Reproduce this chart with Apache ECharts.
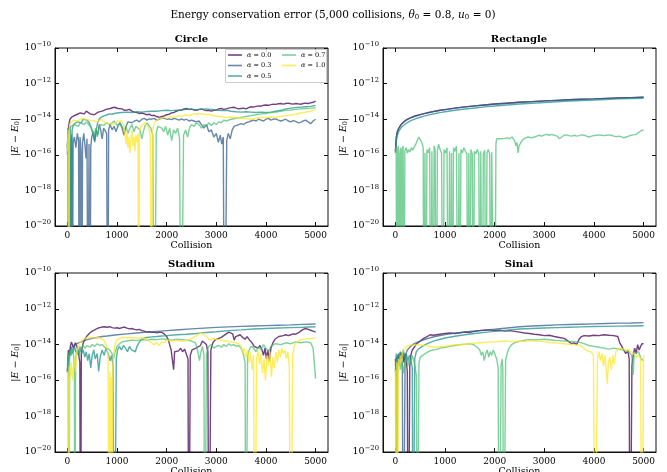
<!DOCTYPE html>
<html>
<head>
<meta charset="utf-8">
<script src="https://cdn.jsdelivr.net/npm/echarts@6/dist/echarts.min.js"></script>
<style>html,body{margin:0;padding:0;background:#fff;}#chart{width:667px;height:472px;}</style>
</head>
<body>
<div id="chart"></div>
<script>
// ---------- DATA (values are log10 |E - E0|; -30 marks an exact-zero error that plunges off the log axis) ----------
const xTicks = [0, 1000, 2000, 3000, 4000, 5000];
const panelTitles = ['Circle', 'Rectangle', 'Stadium', 'Sinai'];
const alphaLabels = ['α = 0.0', 'α = 0.3', 'α = 0.5', 'α = 0.7', 'α = 1.0'];

const circle_a00 = [[0,-15.6],[15,-14.6],[30,-14.3],[50,-14.0],[70,-13.95],[100,-13.85],[140,-13.9],[180,-13.75],[220,-13.8],[260,-13.65],[300,-13.6],[340,-13.7],[380,-13.55],[420,-13.6],[460,-13.7],[500,-13.8],[540,-13.75],[580,-13.7],[620,-13.6],[660,-13.62],[700,-13.55],[740,-13.5],[780,-13.45],[820,-13.45],[860,-13.4],[900,-13.38],[940,-13.33],[980,-13.3],[1020,-13.4],[1060,-13.45],[1100,-13.42],[1150,-13.5],[1200,-13.48],[1250,-13.45],[1300,-13.55],[1350,-13.6],[1400,-13.62],[1450,-13.68],[1500,-13.65],[1550,-13.7],[1600,-13.75],[1650,-13.72],[1700,-13.8],[1750,-13.78],[1800,-13.85],[1850,-13.9],[1900,-13.85],[1950,-13.82],[2000,-13.75],[2050,-13.72],[2100,-13.65],[2150,-13.62],[2200,-13.55],[2250,-13.5],[2300,-13.48],[2350,-13.42],[2400,-13.4],[2450,-13.45],[2500,-13.43],[2550,-13.48],[2600,-13.5],[2650,-13.45],[2700,-13.42],[2750,-13.48],[2800,-13.52],[2850,-13.5],[2900,-13.55],[2950,-13.5],[3000,-13.48],[3050,-13.42],[3100,-13.4],[3150,-13.45],[3200,-13.42],[3250,-13.38],[3300,-13.35],[3350,-13.33],[3400,-13.38],[3450,-13.42],[3500,-13.4],[3550,-13.38],[3600,-13.42],[3650,-13.35],[3700,-13.3],[3750,-13.32],[3800,-13.28],[3850,-13.25],[3900,-13.27],[3950,-13.22],[4000,-13.2],[4050,-13.22],[4100,-13.18],[4150,-13.15],[4200,-13.17],[4250,-13.13],[4300,-13.12],[4350,-13.15],[4400,-13.12],[4450,-13.1],[4500,-13.13],[4550,-13.15],[4600,-13.12],[4650,-13.14],[4700,-13.16],[4750,-13.12],[4800,-13.1],[4850,-13.12],[4900,-13.08],[4950,-13.05],[5000,-12.98]];
const circle_a03 = [[0,-16.0],[10,-14.8],[20,-30],[30,-15.0],[45,-15.8],[55,-30],[70,-15.2],[85,-14.9],[100,-30],[115,-15.3],[140,-15.0],[170,-15.6],[200,-14.8],[225,-15.2],[240,-30],[255,-15.0],[275,-15.8],[290,-30],[305,-15.3],[330,-14.8],[355,-15.5],[375,-16.2],[395,-15.1],[415,-30],[435,-15.4],[455,-30],[470,-15.6],[490,-15.0],[520,-14.7],[550,-15.2],[580,-14.6],[610,-14.9],[640,-14.3],[670,-14.6],[700,-15.1],[730,-14.5],[760,-14.4],[790,-14.8],[815,-30],[830,-14.6],[860,-14.3],[900,-14.6],[940,-14.4],[980,-14.7],[1020,-14.35],[1060,-14.2],[1100,-14.5],[1140,-14.9],[1180,-14.4],[1220,-14.15],[1260,-14.1],[1300,-14.2],[1350,-14.1],[1400,-14.05],[1450,-14.15],[1500,-14.0],[1550,-13.95],[1600,-14.05],[1650,-13.98],[1700,-14.0],[1750,-13.95],[1800,-14.05],[1850,-14.0],[1900,-13.92],[1950,-13.95],[2000,-14.0],[2050,-13.98],[2100,-14.02],[2150,-13.95],[2200,-14.0],[2250,-14.05],[2300,-13.98],[2350,-14.05],[2400,-14.0],[2450,-14.1],[2500,-14.05],[2550,-14.1],[2600,-14.15],[2650,-14.1],[2700,-14.3],[2750,-14.5],[2800,-14.3],[2850,-14.7],[2900,-14.6],[2950,-15.0],[3000,-14.8],[3040,-15.3],[3080,-14.9],[3110,-15.4],[3140,-15.0],[3165,-30],[3190,-30],[3210,-15.2],[3240,-14.8],[3280,-15.1],[3320,-14.6],[3360,-14.4],[3400,-14.5],[3450,-14.3],[3500,-14.25],[3550,-14.3],[3600,-14.2],[3650,-14.15],[3700,-14.1],[3750,-14.05],[3800,-14.1],[3850,-14.0],[3900,-14.05],[3950,-14.1],[4000,-14.0],[4050,-13.95],[4100,-14.05],[4150,-14.0],[4200,-13.98],[4250,-14.05],[4300,-14.1],[4350,-14.05],[4400,-14.0],[4450,-14.1],[4500,-14.15],[4550,-14.08],[4600,-14.12],[4650,-14.2],[4700,-14.18],[4750,-14.1],[4800,-14.05],[4850,-14.15],[4900,-14.25],[4950,-14.1],[5000,-14.0]];
const circle_a05 = [[0,-15.5],[15,-14.5],[30,-14.8],[50,-14.4],[70,-15.0],[80,-30],[95,-14.6],[120,-14.3],[160,-14.2],[200,-14.15],[240,-14.1],[280,-14.2],[320,-14.0],[360,-14.1],[400,-14.05],[440,-14.2],[480,-14.5],[520,-14.9],[550,-15.3],[580,-14.6],[610,-14.2],[650,-13.95],[700,-13.85],[750,-13.8],[800,-13.75],[850,-13.7],[900,-13.72],[950,-13.68],[1000,-13.65],[1100,-13.62],[1200,-13.6],[1300,-13.62],[1400,-13.58],[1500,-13.6],[1600,-13.57],[1700,-13.55],[1800,-13.55],[1900,-13.52],[2000,-13.5],[2100,-13.52],[2200,-13.5],[2300,-13.48],[2400,-13.45],[2500,-13.45],[2600,-13.47],[2700,-13.45],[2800,-13.42],[2900,-13.45],[3000,-13.48],[3100,-13.52],[3200,-13.5],[3300,-13.55],[3400,-13.58],[3500,-13.6],[3600,-13.58],[3700,-13.6],[3800,-13.62],[3900,-13.6],[4000,-13.62],[4100,-13.6],[4200,-13.55],[4300,-13.5],[4400,-13.42],[4500,-13.38],[4600,-13.35],[4700,-13.32],[4800,-13.3],[4900,-13.28],[5000,-13.22]];
const circle_a07 = [[0,-15.8],[15,-14.8],[30,-30],[45,-14.6],[70,-14.4],[100,-14.5],[140,-14.3],[180,-14.25],[220,-14.4],[260,-14.2],[300,-14.1],[340,-14.3],[380,-14.15],[420,-14.25],[460,-14.4],[500,-14.6],[540,-14.9],[570,-14.5],[600,-15.0],[630,-14.6],[660,-14.3],[700,-14.2],[740,-14.35],[780,-14.2],[820,-14.15],[860,-14.3],[900,-14.2],[940,-14.1],[980,-14.25],[1020,-14.4],[1060,-14.2],[1100,-14.3],[1140,-14.6],[1180,-14.4],[1220,-14.8],[1260,-14.5],[1300,-14.3],[1340,-14.7],[1380,-14.4],[1420,-14.3],[1460,-14.6],[1500,-15.1],[1530,-14.7],[1560,-14.4],[1600,-14.2],[1640,-14.3],[1680,-14.5],[1720,-14.9],[1750,-30],[1775,-30],[1790,-14.8],[1820,-14.4],[1860,-14.3],[1900,-14.5],[1940,-14.7],[1980,-14.4],[2020,-14.9],[2060,-14.5],[2100,-15.2],[2140,-14.6],[2180,-14.8],[2220,-14.5],[2260,-15.1],[2290,-30],[2320,-30],[2340,-14.9],[2380,-14.6],[2420,-15.0],[2460,-14.5],[2500,-14.3],[2550,-14.4],[2600,-14.2],[2650,-14.3],[2700,-14.5],[2750,-14.3],[2800,-14.4],[2850,-14.2],[2900,-14.35],[2950,-14.2],[3000,-14.3],[3050,-14.15],[3100,-14.2],[3150,-14.05],[3200,-14.1],[3300,-14.0],[3400,-13.95],[3500,-13.9],[3600,-13.85],[3700,-13.8],[3800,-13.75],[3900,-13.7],[4000,-13.68],[4100,-13.62],[4200,-13.6],[4300,-13.55],[4400,-13.5],[4500,-13.48],[4600,-13.45],[4700,-13.42],[4800,-13.4],[4900,-13.38],[5000,-13.35]];
const circle_a10 = [[0,-15.8],[15,-14.6],[25,-30],[40,-14.4],[60,-14.2],[90,-14.1],[130,-14.05],[170,-14.0],[210,-14.1],[250,-14.0],[290,-13.95],[330,-14.05],[370,-14.0],[410,-14.1],[450,-14.05],[490,-14.0],[530,-14.1],[570,-14.2],[610,-14.15],[650,-14.05],[690,-14.0],[730,-14.1],[770,-14.2],[810,-14.15],[850,-14.25],[890,-14.2],[930,-14.3],[970,-14.2],[1010,-14.1],[1050,-14.05],[1090,-14.1],[1130,-14.3],[1160,-14.8],[1180,-15.4],[1200,-14.7],[1220,-15.6],[1240,-15.0],[1260,-15.9],[1280,-15.2],[1300,-14.6],[1320,-15.5],[1340,-15.0],[1360,-15.8],[1380,-14.9],[1400,-15.3],[1420,-14.8],[1435,-30],[1450,-14.7],[1480,-14.4],[1520,-14.3],[1560,-14.2],[1600,-14.3],[1640,-14.5],[1670,-15.0],[1690,-30],[1710,-14.8],[1740,-14.3],[1780,-14.1],[1820,-14.0],[1860,-13.95],[1900,-14.0],[1950,-13.9],[2000,-13.95],[2050,-13.9],[2100,-13.85],[2150,-13.9],[2200,-13.85],[2250,-13.8],[2300,-13.85],[2350,-13.78],[2400,-13.75],[2450,-13.8],[2500,-13.75],[2550,-13.7],[2600,-13.72],[2650,-13.68],[2700,-13.7],[2750,-13.72],[2800,-13.75],[2850,-13.72],[2900,-13.78],[2950,-13.8],[3000,-13.82],[3100,-13.85],[3200,-13.9],[3300,-13.88],[3400,-13.92],[3500,-13.95],[3600,-13.98],[3700,-14.0],[3800,-13.95],[3900,-13.9],[4000,-13.92],[4100,-13.88],[4200,-13.9],[4300,-13.85],[4400,-13.8],[4500,-13.78],[4600,-13.72],[4700,-13.65],[4800,-13.6],[4900,-13.55],[5000,-13.45]];

const rect_a00 = [[0,-15.8],[20,-15.0],[40,-14.7],[60,-14.55],[80,-14.45],[110,-14.32],[150,-14.2],[200,-14.08],[250,-14.0],[300,-13.93],[400,-13.82],[500,-13.74],[600,-13.67],[700,-13.61],[800,-13.55],[900,-13.5],[1000,-13.46],[1200,-13.38],[1400,-13.31],[1600,-13.25],[1800,-13.2],[2000,-13.15],[2250,-13.1],[2500,-13.05],[2750,-13.01],[3000,-12.97],[3250,-12.94],[3500,-12.91],[3750,-12.88],[4000,-12.86],[4250,-12.83],[4500,-12.81],[4750,-12.79],[5000,-12.77]];
const rect_a03 = [[0,-15.8],[20,-15.0],[40,-14.7],[60,-14.55],[80,-14.45],[110,-14.32],[150,-14.2],[200,-14.08],[250,-14.0],[300,-13.93],[400,-13.82],[500,-13.74],[600,-13.67],[700,-13.61],[800,-13.55],[900,-13.5],[1000,-13.46],[1200,-13.38],[1400,-13.31],[1600,-13.25],[1800,-13.2],[2000,-13.15],[2250,-13.1],[2500,-13.05],[2750,-13.01],[3000,-12.97],[3250,-12.94],[3500,-12.91],[3750,-12.88],[4000,-12.86],[4250,-12.83],[4500,-12.81],[4750,-12.79],[5000,-12.77]];
const rect_a05 = [[0,-15.9],[20,-15.2],[40,-14.9],[60,-14.75],[80,-14.62],[110,-14.5],[150,-14.38],[200,-14.27],[250,-14.18],[300,-14.1],[400,-13.98],[500,-13.89],[600,-13.81],[700,-13.74],[800,-13.68],[900,-13.63],[1000,-13.58],[1200,-13.5],[1400,-13.43],[1600,-13.37],[1800,-13.31],[2000,-13.26],[2250,-13.2],[2500,-13.15],[2750,-13.1],[3000,-13.06],[3250,-13.02],[3500,-12.98],[3750,-12.95],[4000,-12.92],[4250,-12.89],[4500,-12.86],[4750,-12.84],[5000,-12.82]];
const rect_a07 = [[0,-15.8],[15,-15.6],[30,-30],[45,-15.7],[60,-15.5],[75,-30],[90,-15.9],[105,-15.6],[120,-30],[135,-15.7],[155,-15.5],[175,-30],[190,-15.8],[215,-15.6],[240,-15.9],[265,-15.7],[290,-15.85],[320,-15.6],[350,-15.75],[380,-15.55],[410,-15.4],[440,-15.2],[470,-15.0],[500,-15.1],[530,-15.3],[560,-15.6],[575,-30],[595,-15.9],[615,-30],[635,-15.7],[660,-15.9],[690,-15.6],[715,-30],[735,-15.8],[760,-30],[780,-15.5],[800,-15.7],[825,-30],[845,-15.8],[870,-15.4],[900,-15.7],[930,-15.9],[960,-30],[980,-15.7],[1010,-15.9],[1040,-15.6],[1070,-30],[1090,-15.8],[1110,-30],[1130,-15.9],[1150,-30],[1170,-15.6],[1200,-15.8],[1230,-15.5],[1260,-30],[1280,-15.9],[1300,-30],[1320,-15.7],[1350,-15.9],[1380,-15.6],[1410,-15.8],[1440,-15.95],[1460,-30],[1480,-15.9],[1500,-30],[1520,-15.7],[1550,-15.95],[1570,-30],[1590,-15.8],[1620,-15.95],[1650,-15.7],[1680,-15.95],[1700,-30],[1720,-15.8],[1750,-30],[1770,-15.95],[1800,-15.75],[1825,-30],[1845,-15.9],[1870,-15.7],[1900,-15.95],[1920,-30],[1940,-15.85],[1970,-15.75],[2000,-30],[2025,-15.4],[2040,-15.1],[2080,-15.05],[2120,-15.1],[2160,-15.0],[2200,-15.08],[2250,-15.05],[2300,-15.1],[2350,-15.0],[2400,-15.2],[2430,-15.5],[2450,-15.3],[2470,-15.9],[2490,-15.5],[2520,-15.4],[2550,-15.2],[2580,-15.1],[2620,-15.05],[2680,-15.0],[2740,-15.05],[2800,-15.0],[2850,-14.95],[2900,-14.9],[2950,-14.95],[3000,-14.88],[3050,-14.85],[3100,-14.9],[3150,-14.85],[3200,-14.9],[3260,-14.95],[3300,-15.1],[3340,-15.0],[3400,-14.9],[3450,-14.88],[3500,-14.92],[3550,-14.95],[3600,-14.9],[3650,-14.95],[3700,-14.92],[3750,-14.88],[3800,-14.9],[3850,-14.95],[3900,-15.0],[3950,-14.95],[4000,-14.92],[4050,-14.9],[4100,-14.88],[4150,-14.9],[4200,-14.92],[4250,-14.9],[4300,-14.88],[4350,-14.9],[4400,-14.95],[4450,-14.98],[4500,-14.95],[4550,-14.98],[4600,-15.05],[4650,-15.0],[4700,-14.95],[4750,-14.9],[4800,-14.88],[4850,-14.85],[4900,-14.75],[4950,-14.65],[5000,-14.6]];
const rect_a10 = []; // error is exactly zero throughout: nothing appears on a log axis

const stad_a00 = [[0,-15.5],[20,-14.3],[40,-14.6],[60,-14.1],[80,-13.85],[100,-13.95],[130,-14.2],[160,-13.9],[190,-14.1],[220,-14.4],[250,-15.0],[265,-30],[280,-14.5],[310,-14.0],[350,-13.7],[400,-13.5],[450,-13.35],[500,-13.25],[550,-13.18],[600,-13.1],[650,-13.05],[700,-13.02],[750,-13.0],[800,-13.03],[850,-13.0],[900,-13.05],[950,-13.08],[1000,-13.06],[1050,-13.1],[1100,-13.05],[1150,-13.02],[1200,-13.08],[1250,-13.12],[1300,-13.1],[1350,-13.15],[1400,-13.18],[1450,-13.15],[1500,-13.22],[1550,-13.25],[1600,-13.3],[1650,-13.28],[1700,-13.32],[1750,-13.3],[1800,-13.35],[1850,-13.3],[1900,-13.32],[1950,-13.4],[2000,-13.55],[2030,-13.7],[2060,-14.0],[2090,-14.3],[2120,-14.2],[2140,-15.4],[2160,-14.4],[2200,-14.3],[2240,-14.35],[2280,-14.2],[2320,-14.4],[2360,-14.25],[2400,-14.3],[2430,-14.8],[2445,-30],[2460,-30],[2475,-14.6],[2510,-14.3],[2550,-14.35],[2590,-14.2],[2630,-14.3],[2680,-14.05],[2720,-13.8],[2760,-13.75],[2800,-14.0],[2830,-14.4],[2850,-30],[2870,-30],[2890,-14.3],[2930,-13.9],[2970,-13.75],[3010,-13.8],[3050,-13.65],[3100,-13.6],[3150,-13.5],[3200,-13.4],[3250,-13.3],[3290,-13.25],[3330,-13.4],[3360,-13.75],[3390,-13.55],[3430,-13.5],[3480,-13.45],[3530,-13.6],[3580,-13.7],[3620,-13.55],[3670,-13.75],[3720,-13.9],[3760,-14.1],[3800,-14.0],[3840,-14.2],[3880,-14.05],[3920,-14.3],[3950,-14.6],[3980,-14.2],[4010,-14.8],[4040,-14.3],[4070,-14.9],[4100,-14.2],[4140,-13.9],[4180,-13.7],[4220,-13.6],[4260,-13.55],[4300,-13.6],[4350,-13.5],[4400,-13.45],[4450,-13.5],[4500,-13.45],[4550,-13.4],[4600,-13.42],[4650,-13.35],[4700,-13.25],[4750,-13.15],[4800,-13.1],[4850,-13.15],[4900,-13.2],[4950,-13.25],[5000,-13.3]];
const stad_a03 = [[0,-15.5],[20,-14.8],[40,-14.5],[60,-14.3],[80,-14.2],[100,-14.1],[150,-14.0],[200,-13.93],[300,-13.82],[400,-13.72],[500,-13.65],[600,-13.6],[700,-13.55],[800,-13.52],[1000,-13.45],[1200,-13.4],[1400,-13.35],[1600,-13.3],[1800,-13.26],[2000,-13.22],[2250,-13.17],[2500,-13.12],[2750,-13.08],[3000,-13.04],[3250,-13.01],[3500,-12.98],[3750,-12.96],[4000,-12.94],[4250,-12.92],[4500,-12.9],[4750,-12.87],[5000,-12.85]];
const stad_a05 = [[0,-15.2],[15,-14.6],[30,-14.9],[50,-14.3],[70,-14.6],[90,-14.2],[110,-14.5],[140,-14.1],[170,-14.4],[200,-14.3],[230,-14.6],[260,-14.2],[290,-14.5],[320,-14.3],[350,-14.7],[380,-14.4],[410,-14.9],[440,-14.5],[470,-15.3],[500,-14.6],[530,-14.3],[560,-14.8],[600,-14.5],[630,-15.5],[660,-14.7],[700,-14.3],[740,-14.6],[780,-14.2],[820,-14.5],[860,-14.9],[890,-14.6],[920,-15.2],[945,-30],[965,-30],[985,-14.8],[1010,-14.3],[1050,-14.1],[1090,-14.3],[1130,-14.05],[1170,-14.2],[1210,-14.4],[1250,-14.1],[1290,-14.3],[1330,-14.2],[1370,-14.4],[1400,-14.1],[1440,-13.9],[1480,-13.75],[1520,-13.65],[1560,-13.62],[1600,-13.6],[1700,-13.57],[1800,-13.55],[1900,-13.52],[2000,-13.5],[2200,-13.45],[2400,-13.42],[2600,-13.38],[2800,-13.32],[3000,-13.28],[3250,-13.22],[3500,-13.18],[3750,-13.13],[4000,-13.1],[4250,-13.07],[4500,-13.05],[4750,-13.03],[5000,-13.0]];
const stad_a07 = [[0,-15.6],[15,-14.5],[30,-30],[45,-14.8],[60,-14.3],[80,-14.6],[100,-14.2],[120,-14.5],[140,-15.2],[150,-30],[165,-14.8],[190,-14.3],[220,-14.5],[250,-14.1],[280,-14.3],[310,-14.0],[350,-14.2],[400,-14.05],[450,-14.15],[500,-14.0],[550,-14.1],[600,-13.95],[650,-14.05],[700,-14.0],[750,-14.15],[800,-14.2],[850,-14.3],[900,-14.5],[930,-14.8],[960,-14.4],[1000,-14.1],[1050,-13.95],[1100,-13.85],[1200,-13.8],[1300,-13.75],[1400,-13.78],[1500,-13.72],[1600,-13.75],[1700,-13.7],[1800,-13.72],[1900,-13.68],[2000,-13.7],[2100,-13.75],[2200,-13.7],[2300,-13.72],[2400,-13.75],[2500,-13.8],[2580,-13.9],[2620,-14.3],[2660,-14.9],[2690,-14.4],[2720,-14.1],[2750,-14.6],[2765,-30],[2785,-30],[2800,-14.5],[2850,-14.1],[2900,-14.0],[2950,-14.2],[3000,-14.1],[3050,-14.05],[3100,-14.15],[3150,-14.0],[3200,-14.1],[3250,-13.95],[3300,-14.05],[3350,-14.0],[3400,-14.1],[3450,-14.05],[3500,-14.2],[3550,-14.6],[3580,-15.0],[3595,-30],[3615,-30],[3630,-14.7],[3660,-14.3],[3700,-14.1],[3750,-14.2],[3800,-14.4],[3850,-14.1],[3900,-14.3],[3950,-14.0],[4000,-14.2],[4050,-14.4],[4100,-14.1],[4150,-14.0],[4200,-13.95],[4300,-14.0],[4400,-13.9],[4500,-13.95],[4600,-13.85],[4700,-13.9],[4800,-13.85],[4900,-13.9],[4950,-14.2],[5000,-15.9]];
const stad_a10 = [[0,-15.5],[15,-16.0],[25,-30],[40,-15.2],[60,-15.8],[80,-15.0],[100,-16.0],[120,-15.3],[140,-14.8],[160,-15.5],[180,-14.6],[200,-14.3],[230,-14.0],[260,-13.85],[300,-13.75],[350,-13.65],[400,-13.6],[450,-13.62],[500,-13.6],[550,-13.65],[600,-13.6],[650,-13.62],[700,-13.7],[750,-13.8],[790,-14.1],[820,-14.6],[840,-30],[855,-15.5],[870,-30],[885,-15.8],[900,-30],[915,-15.2],[935,-14.5],[960,-14.0],[1000,-13.75],[1050,-13.65],[1100,-13.6],[1200,-13.62],[1300,-13.6],[1400,-13.65],[1500,-13.62],[1600,-13.68],[1650,-13.8],[1700,-13.9],[1750,-14.0],[1800,-13.9],[1850,-14.05],[1900,-13.85],[1950,-13.9],[2000,-13.75],[2100,-13.8],[2200,-13.75],[2300,-13.8],[2400,-13.78],[2500,-13.65],[2600,-13.5],[2650,-13.4],[2700,-13.35],[2750,-13.45],[2800,-13.55],[2850,-13.7],[2900,-13.75],[2950,-13.65],[3000,-13.7],[3100,-13.75],[3200,-13.8],[3300,-13.85],[3400,-13.9],[3450,-13.95],[3500,-14.1],[3530,-14.5],[3560,-14.2],[3600,-14.7],[3630,-14.3],[3660,-15.0],[3690,-14.4],[3720,-15.4],[3750,-14.6],[3775,-30],[3795,-30],[3810,-14.9],[3840,-14.3],[3870,-15.1],[3900,-14.5],[3930,-15.6],[3960,-14.8],[3990,-16.0],[4020,-14.6],[4050,-15.2],[4080,-14.4],[4110,-15.8],[4140,-14.7],[4170,-15.3],[4200,-14.4],[4230,-15.0],[4260,-14.3],[4290,-14.7],[4320,-14.2],[4350,-14.5],[4380,-14.3],[4410,-14.8],[4440,-14.4],[4470,-15.2],[4495,-30],[4520,-30],[4540,-14.6],[4570,-14.1],[4600,-13.9],[4650,-13.8],[4700,-13.72],[4750,-13.7],[4800,-13.68],[4850,-13.65],[4900,-13.68],[4950,-13.65],[5000,-13.62]];

const sinai_a00 = [[0,-14.8],[15,-15.8],[25,-30],[40,-15.0],[60,-14.6],[80,-15.2],[100,-14.5],[120,-14.8],[145,-14.4],[170,-15.0],[195,-14.5],[220,-14.9],[240,-15.5],[255,-30],[275,-30],[290,-15.2],[310,-14.6],[340,-14.3],[380,-14.2],[430,-13.95],[500,-13.8],[570,-13.65],[640,-13.55],[700,-13.45],[770,-13.48],[830,-13.45],[900,-13.42],[1000,-13.38],[1100,-13.35],[1200,-13.38],[1300,-13.34],[1400,-13.3],[1500,-13.32],[1600,-13.26],[1700,-13.22],[1800,-13.2],[1900,-13.18],[2000,-13.22],[2100,-13.2],[2200,-13.25],[2300,-13.22],[2400,-13.26],[2500,-13.3],[2600,-13.35],[2700,-13.38],[2800,-13.42],[2900,-13.45],[3000,-13.5],[3100,-13.48],[3200,-13.55],[3300,-13.6],[3400,-13.65],[3450,-13.75],[3500,-13.85],[3550,-13.95],[3600,-13.9],[3650,-14.0],[3700,-13.7],[3750,-13.55],[3800,-13.5],[3900,-13.52],[4000,-13.48],[4100,-13.5],[4200,-13.45],[4300,-13.48],[4400,-13.5],[4480,-13.55],[4520,-13.9],[4560,-14.1],[4600,-14.3],[4640,-14.5],[4680,-14.3],[4710,-14.8],[4725,-30],[4750,-30],[4765,-15.2],[4790,-14.6],[4820,-14.2],[4850,-14.5],[4880,-14.0],[4910,-14.3],[4940,-14.1],[4970,-13.95],[5000,-13.95]];
const sinai_a03 = [[0,-15.5],[20,-14.7],[40,-14.9],[60,-14.5],[80,-14.8],[100,-14.4],[120,-14.7],[140,-15.1],[155,-30],[175,-30],[195,-14.9],[215,-14.5],[240,-14.3],[270,-14.2],[300,-14.12],[350,-14.0],[400,-13.92],[500,-13.8],[600,-13.7],[700,-13.62],[800,-13.55],[900,-13.49],[1000,-13.44],[1200,-13.36],[1400,-13.3],[1600,-13.24],[1800,-13.19],[2000,-13.14],[2250,-13.07],[2500,-13.0],[2750,-12.96],[3000,-12.93],[3250,-12.9],[3500,-12.88],[3750,-12.86],[4000,-12.84],[4250,-12.82],[4500,-12.8],[4750,-12.79],[5000,-12.77]];
const sinai_a05 = [[0,-15.2],[20,-14.5],[40,-14.9],[60,-14.6],[80,-15.0],[100,-14.4],[130,-14.7],[160,-14.3],[190,-14.8],[220,-14.5],[250,-14.9],[280,-14.6],[310,-14.8],[340,-15.3],[355,-30],[375,-30],[390,-14.8],[420,-14.4],[460,-14.25],[500,-14.15],[600,-14.0],[700,-13.88],[800,-13.78],[900,-13.7],[1000,-13.63],[1200,-13.53],[1400,-13.45],[1600,-13.38],[1800,-13.32],[2000,-13.26],[2250,-13.19],[2500,-13.13],[2750,-13.1],[3000,-13.07],[3250,-13.05],[3500,-13.03],[3750,-13.01],[4000,-12.99],[4250,-12.98],[4500,-12.97],[4750,-12.96],[5000,-12.95]];
const sinai_a07 = [[0,-15.6],[15,-14.9],[30,-30],[45,-15.2],[70,-14.8],[100,-15.4],[130,-14.9],[160,-15.6],[190,-15.0],[220,-14.7],[250,-15.2],[280,-14.8],[310,-15.0],[340,-14.6],[370,-14.9],[400,-15.3],[425,-15.8],[440,-30],[460,-30],[475,-15.0],[500,-14.7],[550,-14.6],[600,-14.5],[650,-14.42],[700,-14.35],[750,-14.3],[800,-14.28],[850,-14.25],[900,-14.2],[1000,-14.15],[1100,-14.1],[1200,-14.05],[1300,-14.0],[1400,-13.98],[1500,-13.95],[1550,-13.98],[1600,-14.05],[1650,-14.15],[1700,-14.3],[1730,-14.6],[1760,-14.4],[1790,-14.9],[1820,-14.5],[1850,-14.3],[1880,-14.7],[1910,-14.4],[1940,-14.6],[1970,-14.3],[2000,-14.5],[2040,-14.8],[2070,-15.3],[2090,-30],[2110,-30],[2130,-15.1],[2150,-14.8],[2165,-15.4],[2180,-30],[2200,-30],[2220,-14.9],[2250,-14.5],[2290,-14.2],[2340,-14.0],[2400,-13.9],[2500,-13.82],[2600,-13.76],[2700,-13.72],[2800,-13.74],[2900,-13.72],[3000,-13.7],[3100,-13.73],[3200,-13.76],[3300,-13.78],[3400,-13.8],[3500,-13.82],[3600,-13.84],[3700,-13.86],[3800,-13.95],[3900,-14.05],[4000,-14.1],[4100,-14.15],[4200,-14.2],[4300,-14.25],[4400,-14.2],[4500,-14.25],[4600,-14.3],[4700,-14.4],[4760,-14.6],[4790,-15.7],[4810,-14.5],[4850,-14.6],[4900,-14.4],[4950,-14.8],[5000,-14.9]];
const sinai_a10 = [[0,-15.4],[15,-30],[30,-15.0],[45,-30],[60,-14.8],[80,-15.3],[100,-14.6],[120,-15.0],[140,-14.5],[160,-14.3],[190,-14.2],[230,-14.1],[270,-14.05],[320,-14.0],[370,-14.05],[430,-14.0],[500,-14.02],[600,-14.05],[700,-14.1],[800,-14.15],[900,-14.12],[1000,-14.1],[1100,-14.05],[1200,-14.0],[1300,-14.02],[1400,-13.98],[1500,-13.95],[1600,-13.92],[1700,-13.9],[1800,-13.88],[1900,-13.85],[2000,-13.85],[2100,-13.82],[2200,-13.8],[2300,-13.82],[2400,-13.85],[2500,-13.8],[2600,-13.82],[2700,-13.78],[2800,-13.8],[2900,-13.82],[3000,-13.85],[3100,-13.88],[3200,-13.9],[3300,-13.92],[3400,-13.95],[3500,-13.98],[3600,-14.0],[3700,-14.02],[3800,-14.2],[3870,-14.35],[3940,-14.4],[3990,-14.6],[4020,-30],[4050,-30],[4070,-14.8],[4100,-14.4],[4130,-14.9],[4160,-14.5],[4190,-15.2],[4220,-14.6],[4250,-15.5],[4270,-16.2],[4290,-15.0],[4320,-14.7],[4350,-15.4],[4380,-14.6],[4410,-15.1],[4440,-14.4],[4480,-14.3],[4520,-14.2],[4560,-14.3],[4600,-14.25],[4650,-14.35],[4700,-14.3],[4750,-14.4],[4800,-14.5],[4850,-14.7],[4900,-14.6],[4940,-14.8],[4965,-30],[4985,-30],[5000,-14.6]];

const panelData = [
  [circle_a00, circle_a03, circle_a05, circle_a07, circle_a10],
  [rect_a00, rect_a03, rect_a05, rect_a07, rect_a10],
  [stad_a00, stad_a03, stad_a05, stad_a07, stad_a10],
  [sinai_a00, sinai_a03, sinai_a05, sinai_a07, sinai_a10]
];

// ---------- STYLE / LAYOUT ----------
const FONT = 'DejaVu Serif';
const colors = ['rgba(68,1,84,0.75)', 'rgba(53,95,141,0.75)', 'rgba(33,145,140,0.75)', 'rgba(68,190,112,0.7)', 'rgba(253,231,37,0.75)'];
const grids = [
  {left: 55, top: 48, width: 273, height: 178},
  {left: 383, top: 48, width: 273, height: 178},
  {left: 55, top: 273, width: 273, height: 179},
  {left: 383, top: 273, width: 273, height: 179}
];
const titleCenters = [[191.5, 34.5], [519, 34.5], [191.5, 259.5], [519, 259.5]];

const supRich = {
  b: {fontFamily: FONT, fontSize: 9.5, color: '#000', lineHeight: 14},
  s: {fontFamily: FONT, fontSize: 6.8, color: '#000', verticalAlign: 'top', lineHeight: 8}
};
function yLabel(v) {
  const e = Math.round(Math.log10(v));
  return '{b|10}{s|' + (e < 0 ? '\u2212' : '') + Math.abs(e) + '}';
}
const toPts = arr => arr.map(p => [p[0], Math.pow(10, p[1])]);

const xAxes = [], yAxes = [], series = [];
grids.forEach((g, i) => {
  xAxes.push({
    gridIndex: i, type: 'value', min: -250, max: 5250, position: 'bottom',
    axisLine: {show: true, onZero: false, lineStyle: {color: '#111', width: 1}},
    axisTick: {show: true, inside: true, length: 4, customValues: xTicks, lineStyle: {color: '#111'}},
    axisLabel: {customValues: xTicks, formatter: v => String(v), color: '#000', fontFamily: FONT, fontSize: 9, margin: 5},
    splitLine: {show: false},
    name: 'Collision', nameLocation: 'middle', nameGap: 14,
    nameTextStyle: {fontFamily: FONT, fontSize: 9.5, color: '#000', verticalAlign: 'top'}
  });
  yAxes.push({
    gridIndex: i, type: 'log', logBase: 10, min: 1e-20, max: 1e-10, interval: 2, position: 'left',
    axisLine: {show: true, onZero: false, lineStyle: {color: '#111', width: 1}},
    axisTick: {show: true, inside: true, length: 4, lineStyle: {color: '#111'}},
    axisLabel: {formatter: yLabel, rich: supRich, margin: 4},
    splitLine: {show: false}, minorTick: {show: false},
    name: '|{i|E} \u2212 {i|E}{sub|0}|', nameLocation: 'middle', nameGap: 31, nameRotate: 90,
    nameTextStyle: {fontFamily: FONT, fontSize: 9.5, color: '#000',
      rich: {i: {fontFamily: FONT, fontStyle: 'italic', fontSize: 9.5, color: '#000'},
             sub: {fontFamily: FONT, fontSize: 6.5, color: '#000', verticalAlign: 'bottom', lineHeight: 9}}}
  });
});
grids.forEach((g, i) => {
  xAxes.push({
    gridIndex: i, type: 'value', min: -250, max: 5250, position: 'top',
    axisLine: {show: false, onZero: false}, axisLabel: {show: false}, splitLine: {show: false},
    axisTick: {show: true, inside: true, length: 4, customValues: xTicks, lineStyle: {color: '#111'}}
  });
  yAxes.push({
    gridIndex: i, type: 'log', logBase: 10, min: 1e-20, max: 1e-10, interval: 2, position: 'right',
    axisLine: {show: false, onZero: false}, axisLabel: {show: false}, splitLine: {show: false},
    axisTick: {show: true, inside: true, length: 4, lineStyle: {color: '#111'}}
  });
});

panelData.forEach((arrs, p) => {
  arrs.forEach((arr, k) => {
    series.push({
      type: 'line', name: alphaLabels[k], xAxisIndex: p, yAxisIndex: p,
      data: toPts(arr), showSymbol: false, symbol: 'none', clip: true, silent: true,
      lineStyle: {width: 1.4, color: colors[k]}, itemStyle: {color: colors[k]}, z: 2
    });
  });
});

const legendText = {
  fontFamily: FONT, fontSize: 6.5, color: '#000', lineHeight: 8,
  rich: {i: {fontFamily: FONT, fontStyle: 'italic', fontSize: 6.5, color: '#000'}}
};
const legendFmt = name => name.replace('α', '{i|α}');
const legendBase = {orient: 'vertical', top: 51, itemGap: 2.5, itemWidth: 14, itemHeight: 1.6, icon: 'rect',
  padding: 0, selectedMode: false, textStyle: legendText, formatter: legendFmt, z: 6};

const titles = [{
  text: 'Energy conservation error (5,000 collisions, {i|θ}{sub|0} = 0.8, {i|u}{sub|0} = 0)',
  left: 333, top: 9.5, textAlign: 'center', padding: 0,
  textStyle: {fontFamily: FONT, fontSize: 10.5, fontWeight: 'normal', color: '#000',
    rich: {i: {fontFamily: FONT, fontStyle: 'italic', fontSize: 10.5, color: '#000'},
           sub: {fontFamily: FONT, fontSize: 7, color: '#000', verticalAlign: 'bottom', lineHeight: 10}}}
}];
panelTitles.forEach((t, i) => {
  titles.push({text: t, left: titleCenters[i][0], top: titleCenters[i][1], textAlign: 'center', padding: 0,
    textStyle: {fontFamily: FONT, fontSize: 10, fontWeight: 'bold', color: '#000'}});
});

const chart = echarts.init(document.getElementById('chart'), null, {renderer: 'canvas'});
chart.setOption({
  animation: false,
  backgroundColor: '#fff',
  title: titles,
  grid: grids.map(g => Object.assign({show: true, borderColor: '#111', borderWidth: 1, backgroundColor: 'transparent', outerBoundsMode: 'none', containLabel: false}, g)),
  xAxis: xAxes,
  yAxis: yAxes,
  legend: [
    Object.assign({}, legendBase, {left: 228, data: alphaLabels.slice(0, 3)}),
    Object.assign({}, legendBase, {left: 282, data: alphaLabels.slice(3, 5)})
  ],
  graphic: [{
    type: 'rect', z: 5, silent: true,
    shape: {x: 225.5, y: 49.5, width: 101, height: 33},
    style: {fill: 'rgba(255,255,255,0.85)', stroke: '#cccccc', lineWidth: 1}
  }],
  series: series
});
</script>
</body>
</html>
